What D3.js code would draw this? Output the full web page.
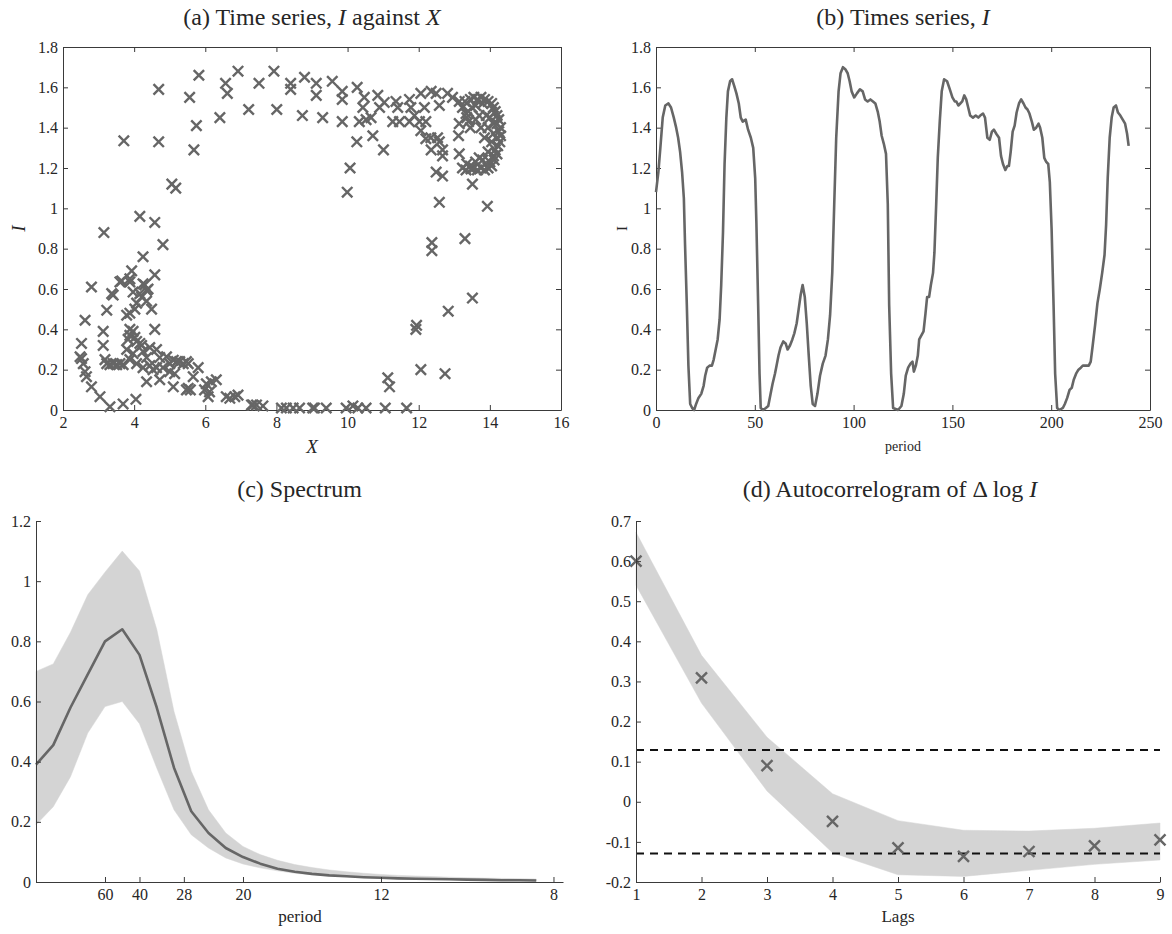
<!DOCTYPE html>
<html><head><meta charset="utf-8">
<script src="https://cdn.jsdelivr.net/npm/d3@7"></script>
<style>
body{margin:0;background:#fff}
svg{display:block}
text{font-family:"Liberation Serif","DejaVu Serif",serif;fill:#262626}
</style>
</head><body>
<svg id="chart" width="1172" height="934"></svg>
<script>
// ---------- DATA ----------
// (a) scatter I against X
const scatterX = [4.69,3.71,4.69,5.82,5.56,5.75,5.68,5.06,5.17,4.16,4.58,3.15,
6.41,6.57,6.62,6.92,7.22,7.51,7.93,8.01,8.40,8.40,8.79,8.73,9.12,9.12,
9.30,9.57,9.85,9.85,9.85,10.27,10.47,10.43,10.33,10.52,10.85,10.90,10.66,10.26,10.71,11.01,10.07,9.99,
11.03,11.36,11.41,11.27,11.46,11.74,11.78,11.74,11.88,12.06,12.16,12.02,12.20,12.06,12.20,12.34,12.35,12.49,12.58,12.35,12.58,12.67,12.53,12.67,12.49,12.67,12.58,12.81,12.95,13.14,13.23,13.33,13.14,13.12,13.14,13.23,13.33,13.47,13.51,13.93,
13.30,13.45,13.55,13.65,13.75,13.85,13.95,14.05,14.10,13.60,13.80,13.50,13.40,
14.15,14.20,14.25,14.20,14.30,14.25,14.30,14.20,14.28,14.22,14.15,14.20,14.10,14.12,14.00,14.05,13.95,14.10,14.10,14.00,14.05,13.95,13.90,13.85,
13.85,13.75,13.65,13.55,13.45,13.35,13.60,13.80,13.70,
13.35,13.40,13.45,13.60,13.70,13.75,13.95,
12.37,12.37,13.30,13.51,12.83,11.94,11.92,12.06,12.74,11.13,11.18,
8.65,9.07,9.40,9.96,10.15,10.29,10.52,11.06,11.66,8.14,8.28,8.47,9.02,7.30,7.44,7.62,6.59,6.69,6.83,6.92,7.34,
4.81,4.25,3.93,4.58,3.65,3.88,2.80,4.30,4.39,3.41,3.97,4.21,4.35,4.07,4.49,3.23,3.79,3.88,2.62,4.58,3.13,3.88,3.97,4.02,3.83,4.07,4.21,2.52,3.13,4.44,4.63,3.79,3.97,4.35,4.72,2.52,2.57,3.18,3.32,3.51,3.69,3.88,4.07,4.25,4.44,4.63,4.81,5.00,5.19,5.38,5.52,5.00,5.14,5.80,5.66,4.72,4.35,5.10,5.52,5.58,6.03,6.17,6.31,6.12,5.98,2.62,2.66,2.80,3.04,3.32,3.69,4.05,
2.48,3.37,3.60,3.88,4.16,4.35,4.25,4.02,3.88,4.16,4.25,4.91,5.10,5.28,5.47,3.23,3.41,3.60,4.53,5.47,6.08];
const scatterI = [1.59,1.335,1.33,1.66,1.55,1.41,1.29,1.12,1.10,0.96,0.93,0.88,
1.45,1.62,1.57,1.68,1.49,1.62,1.68,1.49,1.62,1.59,1.65,1.46,1.62,1.56,
1.45,1.63,1.58,1.54,1.43,1.60,1.55,1.50,1.43,1.44,1.56,1.50,1.45,1.33,1.36,1.29,1.20,1.08,
1.525,1.53,1.50,1.43,1.43,1.54,1.50,1.43,1.46,1.57,1.50,1.43,1.43,1.385,1.345,1.35,1.58,1.57,1.51,1.29,1.33,1.29,1.35,1.26,1.18,1.16,1.03,1.57,1.55,1.53,1.50,1.47,1.42,1.36,1.27,1.20,1.19,1.195,1.12,1.01,
1.53,1.54,1.55,1.54,1.55,1.54,1.53,1.52,1.50,1.51,1.52,1.50,1.48,
1.48,1.46,1.44,1.42,1.40,1.38,1.36,1.35,1.33,1.31,1.29,1.27,1.26,1.24,1.23,1.21,1.20,1.37,1.42,1.45,1.33,1.40,1.46,1.35,
1.19,1.20,1.19,1.20,1.21,1.22,1.23,1.24,1.25,
1.45,1.43,1.40,1.44,1.46,1.40,1.28,
0.83,0.79,0.85,0.555,0.49,0.42,0.40,0.20,0.18,0.16,0.115,
0.01,0.01,0.01,0.01,0.02,0.01,0.01,0.01,0.01,0.01,0.01,0.01,0.01,0.025,0.025,0.02,0.066,0.058,0.066,0.074,0.025,
0.82,0.76,0.69,0.67,0.64,0.65,0.61,0.62,0.60,0.57,0.585,0.56,0.54,0.53,0.50,0.495,0.47,0.48,0.445,0.40,0.39,0.40,0.39,0.36,0.35,0.34,0.32,0.33,0.32,0.31,0.30,0.30,0.28,0.26,0.26,0.255,0.23,0.25,0.225,0.225,0.225,0.25,0.23,0.21,0.22,0.21,0.21,0.23,0.24,0.23,0.23,0.19,0.18,0.21,0.165,0.15,0.14,0.115,0.107,0.10,0.13,0.14,0.15,0.09,0.10,0.19,0.165,0.115,0.066,0.016,0.03,0.053,
0.264,0.577,0.635,0.635,0.577,0.593,0.626,0.50,0.37,0.33,0.29,0.264,0.247,0.24,0.24,0.23,0.23,0.23,0.20,0.10,0.066];

// (b) time series of I
const periods = [0,1.2,2.2,3.4,4.7,6.3,7.6,9,10.2,11.2,12.2,13.2,14.1,14.7,15.6,16.4,17.3,18.3,19.3,20.3,21.5,22.9,24.1,24.9,25.9,27.1,28.3,29.2,30.2,31.2,32.2,33,33.9,34.7,35.6,36.4,37.5,38.5,39.5,40.7,41.9,42.9,43.9,45.4,46.6,48,49.2,50.2,50.8,51.7,52.4,53,54.2,55.6,56.8,58,59,60.2,61,62,63,64.4,65.6,66.6,67.8,69,70,71.2,72.2,73.2,74.2,75.3,76.3,77.3,78.3,79.3,80.5,81.7,83,84.4,85.8,87,88.1,89.2,90.2,91.2,92.4,93.4,94.6,95.8,97,98,99,100.3,101.7,103.2,104.6,105.8,107.1,108.5,109.8,111,112.2,113.2,114.2,115.3,116.4,117.3,118,119,120,122.5,124.2,125.4,126.4,127.6,128.8,129.8,130.5,131.5,132.5,133.2,134.3,135.4,136.4,137.2,138.2,139.1,140.2,140.9,141.8,142.6,143.6,144.6,145.8,147.3,148.7,150,151.2,152,153,154,155,156,157,158,159,160.4,161.8,163.1,164.1,165.5,166.5,167.7,168.9,170,171,172.2,173.6,174.6,175.6,176.8,177.8,178.6,179.5,180.5,181.5,182.5,183.7,184.8,186,187,188,189,190.2,191.2,192.4,193.6,194.4,195.5,196.5,197.5,198.5,199.3,200.2,201.2,202,203,204.2,205.9,206.9,208.1,209.3,210.4,211.4,212.6,213.8,215,216,217,218,219,220,221,222.2,223.4,224.6,225.8,227,227.8,228.6,229.6,230.6,231.6,232.8,233.8,235,236.2,237.4,238.4,239.2];
const seriesI = [1.08,1.18,1.30,1.45,1.51,1.52,1.50,1.45,1.40,1.35,1.28,1.18,1.05,0.82,0.52,0.22,0.03,0.01,0.0,0.03,0.06,0.08,0.12,0.17,0.21,0.22,0.22,0.25,0.30,0.35,0.45,0.62,0.88,1.22,1.45,1.58,1.63,1.64,1.61,1.57,1.52,1.45,1.43,1.44,1.39,1.35,1.30,1.15,0.93,0.52,0.18,0.01,0.0,0.01,0.02,0.08,0.13,0.18,0.22,0.27,0.31,0.34,0.33,0.30,0.32,0.35,0.38,0.43,0.50,0.57,0.62,0.56,0.43,0.27,0.12,0.03,0.02,0.08,0.17,0.23,0.27,0.35,0.47,0.68,1.02,1.35,1.58,1.67,1.70,1.69,1.67,1.63,1.58,1.55,1.57,1.59,1.58,1.54,1.53,1.54,1.53,1.52,1.48,1.43,1.36,1.32,1.27,1.02,0.52,0.18,0.01,0.0,0.02,0.08,0.17,0.21,0.23,0.24,0.19,0.22,0.27,0.35,0.37,0.39,0.48,0.56,0.56,0.62,0.68,0.78,1.02,1.25,1.43,1.58,1.64,1.63,1.59,1.55,1.53,1.53,1.51,1.52,1.53,1.56,1.54,1.50,1.46,1.45,1.46,1.45,1.46,1.47,1.45,1.35,1.34,1.38,1.39,1.37,1.35,1.26,1.22,1.19,1.21,1.21,1.28,1.38,1.41,1.475,1.52,1.54,1.52,1.50,1.49,1.47,1.43,1.39,1.40,1.42,1.40,1.35,1.25,1.23,1.22,1.13,0.90,0.52,0.18,0.01,0.0,0.01,0.03,0.06,0.10,0.11,0.15,0.18,0.20,0.21,0.22,0.22,0.22,0.22,0.24,0.32,0.42,0.53,0.60,0.68,0.77,0.92,1.15,1.35,1.45,1.50,1.51,1.475,1.46,1.44,1.42,1.37,1.31];

// (c) spectrum: frequency index k (cycles per 240 periods)
const freqIndex = [0,1,2,3,4,5,6,7,8,9,10,11,12,13,14,15,16,17,18,19,20,21,22,23,24,25,26,27,28,29];
const nObs = 240;
const spectrum = [0.39,0.455,0.58,0.69,0.80,0.84,0.755,0.58,0.38,0.235,0.163,0.113,0.083,0.061,0.044,0.034,0.027,0.022,0.019,0.016,0.014,0.012,0.011,0.010,0.009,0.008,0.007,0.006,0.006,0.005];
const specUpper = [0.70,0.725,0.83,0.955,1.03,1.10,1.034,0.84,0.567,0.368,0.24,0.163,0.118,0.091,0.072,0.058,0.048,0.040,0.034,0.029,0.025,0.022,0.020,0.018,0.016,0.014,0.013,0.012,0.011,0.010];
const specLower = [0.19,0.25,0.35,0.495,0.583,0.60,0.526,0.379,0.24,0.157,0.113,0.08,0.06,0.047,0.037,0.029,0.024,0.020,0.017,0.014,0.012,0.010,0.009,0.008,0.007,0.006,0.005,0.004,0.004,0.003];
const specPeriodTicks = [60,40,28,20,12,8];
const specYTicks = [0,0.2,0.4,0.6,0.8,1,1.2];
const specYLabels = ["0","0.2","0.4","0.6","0.8","1","1.2"];

// (d) autocorrelogram
const lags = [1,2,3,4,5,6,7,8,9];
const acf = [0.60,0.309,0.09,-0.049,-0.115,-0.136,-0.124,-0.11,-0.095];
const acfUpper = [0.672,0.365,0.161,0.02,-0.047,-0.071,-0.073,-0.066,-0.053];
const acfLower = [0.54,0.246,0.027,-0.127,-0.182,-0.186,-0.171,-0.156,-0.145];
const acfBounds = [0.129,-0.129];
const acfYTicks = [0.7,0.6,0.5,0.4,0.3,0.2,0.1,0,-0.1,-0.2];
const acfYLabels = ["0.7","0.6","0.5","0.4","0.3","0.2","0.1","0","-0.1","-0.2"];

// shared tick labels for (a) and (b)
const iTicks = [0,0.2,0.4,0.6,0.8,1,1.2,1.4,1.6,1.8];
const iLabels = ["0","0.2","0.4","0.6","0.8","1","1.2","1.4","1.6","1.8"];
const xTicksA = [2,4,6,8,10,12,14,16];
const xTicksB = [0,50,100,150,200,250];

// ---------- DRAW ----------
const svg = d3.select("#chart");
const AX = "#3a3a3a", MARK = "#666666", BAND = "#d4d4d4";
const TICKFS = 16;

function styleAxis(g){
  g.attr("font-family", null);
  g.selectAll("path.domain").attr("stroke", AX).attr("stroke-width", 1);
  g.selectAll(".tick line").attr("stroke", AX).attr("stroke-width", 1);
  g.selectAll(".tick text").attr("font-size", TICKFS).attr("fill", "#262626");
}
function xmark(g, px, py, s){
  g.append("path").attr("d", `M${px-s},${py-s}L${px+s},${py+s}M${px-s},${py+s}L${px+s},${py-s}`)
   .attr("stroke", MARK).attr("stroke-width", 2.4).attr("fill", "none");
}
function title(x, y, parts){
  const t = svg.append("text").attr("x", x).attr("y", y).attr("text-anchor", "middle")
    .attr("font-size", 24);
  parts.forEach(p => t.append("tspan").text(p[0]).attr("font-style", p[1] ? "italic" : "normal"));
}

// ----- (a)
{
  const L=63,R=561,T=47,B=410;
  const x = d3.scaleLinear().domain([2,16]).range([L,R]);
  const y = d3.scaleLinear().domain([0,1.8]).range([B,T]);
  const g = svg.append("g");
  g.append("g").attr("transform",`translate(0,${B})`).call(d3.axisBottom(x).tickValues(xTicksA).tickSize(-5).tickSizeOuter(0).tickPadding(7)).call(styleAxis);
  g.append("g").attr("transform",`translate(${L},0)`).call(d3.axisLeft(y).tickValues(iTicks).tickFormat((d,i)=>iLabels[i]).tickSize(-5).tickSizeOuter(0).tickPadding(5)).call(styleAxis);
  g.append("g").attr("transform",`translate(0,${T})`).call(d3.axisTop(x).tickValues(xTicksA).tickFormat("").tickSize(-5).tickSizeOuter(0)).call(styleAxis);
  g.append("g").attr("transform",`translate(${R},0)`).call(d3.axisRight(y).tickValues(iTicks).tickFormat("").tickSize(-5).tickSizeOuter(0)).call(styleAxis);
  const m = g.append("g");
  scatterX.forEach((v,i)=> xmark(m, x(v), y(scatterI[i]), 5.2));
  title((L+R)/2, 25, [["(a) Time series, ",0],["I",1],[" against ",0],["X",1]]);
  svg.append("text").attr("x",(L+R)/2).attr("y",453).attr("text-anchor","middle").attr("font-size",19).attr("font-style","italic").text("X");
  svg.append("text").attr("transform",`translate(25,${(T+B)/2}) rotate(-90)`).attr("text-anchor","middle").attr("font-size",19).attr("font-style","italic").text("I");
}

// ----- (b)
{
  const L=656,R=1150,T=47,B=410;
  const x = d3.scaleLinear().domain([0,250]).range([L,R]);
  const y = d3.scaleLinear().domain([0,1.8]).range([B,T]);
  const g = svg.append("g");
  g.append("g").attr("transform",`translate(0,${B})`).call(d3.axisBottom(x).tickValues(xTicksB).tickSize(-5).tickSizeOuter(0).tickPadding(7)).call(styleAxis);
  g.append("g").attr("transform",`translate(${L},0)`).call(d3.axisLeft(y).tickValues(iTicks).tickFormat((d,i)=>iLabels[i]).tickSize(-5).tickSizeOuter(0).tickPadding(5)).call(styleAxis);
  g.append("g").attr("transform",`translate(0,${T})`).call(d3.axisTop(x).tickValues(xTicksB).tickFormat("").tickSize(-5).tickSizeOuter(0)).call(styleAxis);
  g.append("g").attr("transform",`translate(${R},0)`).call(d3.axisRight(y).tickValues(iTicks).tickFormat("").tickSize(-5).tickSizeOuter(0)).call(styleAxis);
  const line = d3.line().x((d,i)=>x(periods[i])).y(d=>y(d));
  g.append("path").datum(seriesI).attr("d", line).attr("fill","none").attr("stroke",MARK).attr("stroke-width",2.6).attr("stroke-linejoin","round");
  title((L+R)/2, 25, [["(b) Times series, ",0],["I",1]]);
  svg.append("text").attr("x",(L+R)/2).attr("y",451).attr("text-anchor","middle").attr("font-size",14).text("period");
  svg.append("text").attr("transform",`translate(627,${(T+B)/2}) rotate(-90)`).attr("text-anchor","middle").attr("font-size",15).text("I");
}

// ----- (c)
{
  const L=36,R=563,T=521,B=882;
  const x = d3.scaleLinear().domain([0,0.1273]).range([L,R]);
  const y = d3.scaleLinear().domain([0,1.2]).range([B,T]);
  const g = svg.append("g");
  const fx = k => x(k/nObs);
  const area = d3.area().x((d,i)=>fx(freqIndex[i])).y0((d,i)=>y(specLower[i])).y1(d=>y(d));
  g.append("path").datum(specUpper).attr("d", area).attr("fill", BAND).attr("stroke", BAND).attr("stroke-width",0.5);
  const line = d3.line().x((d,i)=>fx(freqIndex[i])).y(d=>y(d));
  g.append("path").datum(spectrum).attr("d", line).attr("fill","none").attr("stroke",MARK).attr("stroke-width",2.6).attr("stroke-linejoin","round");
  g.append("g").attr("transform",`translate(0,${B})`).call(d3.axisBottom(x).tickValues(specPeriodTicks.map(p=>1/p)).tickFormat((d,i)=>specPeriodTicks[i]).tickSize(-5).tickSizeOuter(0).tickPadding(7)).call(styleAxis);
  g.append("g").attr("transform",`translate(${L},0)`).call(d3.axisLeft(y).tickValues(specYTicks).tickFormat((d,i)=>specYLabels[i]).tickSize(-5).tickSizeOuter(0).tickPadding(5)).call(styleAxis);
  title((L+R)/2, 497, [["(c) Spectrum",0]]);
  svg.append("text").attr("x",300).attr("y",922).attr("text-anchor","middle").attr("font-size",17).text("period");
}

// ----- (d)
{
  const L=636,R=1160,T=521,B=882;
  const x = d3.scaleLinear().domain([1,9]).range([L,R]);
  const y = d3.scaleLinear().domain([-0.2,0.7]).range([B,T]);
  const g = svg.append("g");
  const area = d3.area().x((d,i)=>x(lags[i])).y0((d,i)=>y(acfLower[i])).y1(d=>y(d));
  g.append("path").datum(acfUpper).attr("d", area).attr("fill", BAND).attr("stroke", BAND).attr("stroke-width",0.5);
  acfBounds.forEach(b => g.append("line").attr("x1",x(1)).attr("x2",x(9)).attr("y1",y(b)).attr("y2",y(b))
    .attr("stroke","#111").attr("stroke-width",2).attr("stroke-dasharray","8,6"));
  const m = g.append("g");
  acf.forEach((v,i)=> xmark(m, x(lags[i]), y(v), 5.5));
  g.append("g").attr("transform",`translate(0,${B})`).call(d3.axisBottom(x).tickValues(lags).tickSize(-5).tickSizeOuter(0).tickPadding(7)).call(styleAxis);
  g.append("g").attr("transform",`translate(${L},0)`).call(d3.axisLeft(y).tickValues(acfYTicks).tickFormat((d,i)=>acfYLabels[i]).tickSize(-5).tickSizeOuter(0).tickPadding(5)).call(styleAxis);
  title(890, 497, [["(d) Autocorrelogram of \u0394 log ",0],["I",1]]);
  svg.append("text").attr("x",(L+R)/2).attr("y",922).attr("text-anchor","middle").attr("font-size",17).text("Lags");
}
</script>
</body></html>
